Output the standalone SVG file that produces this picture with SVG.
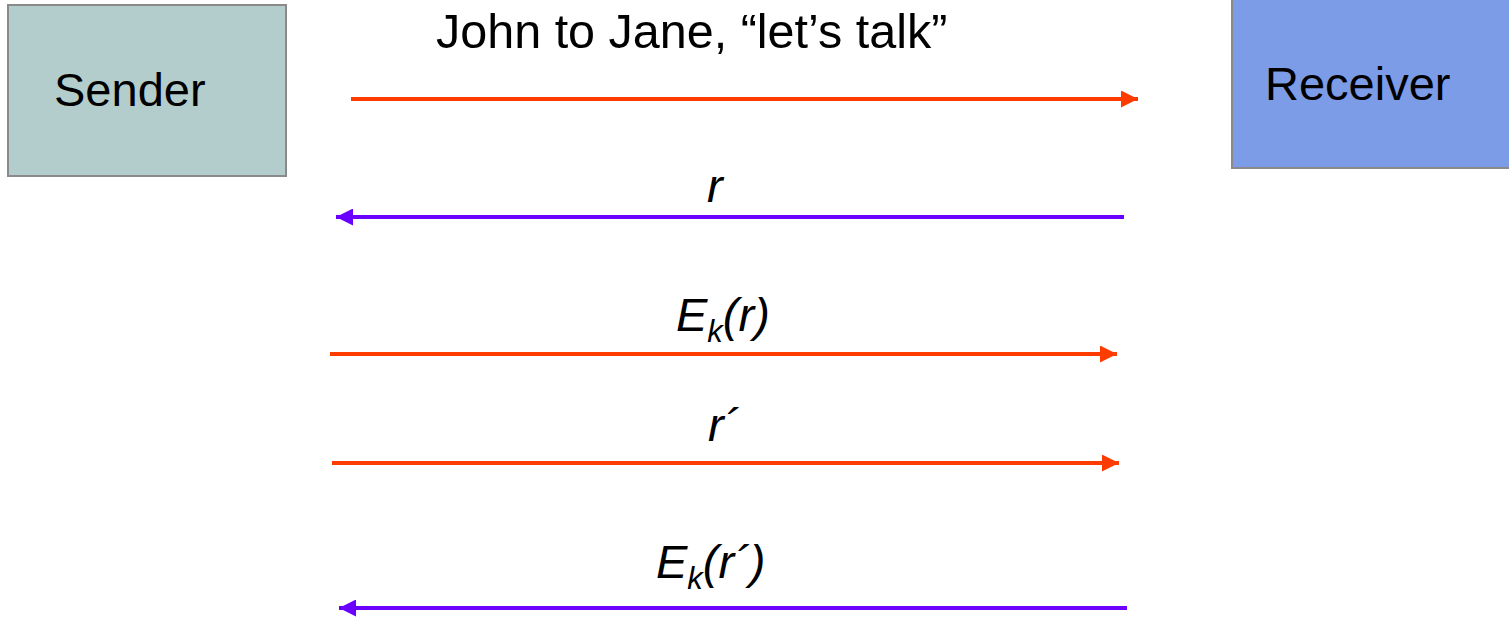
<svg xmlns="http://www.w3.org/2000/svg" width="1509" height="618" viewBox="0 0 1509 618">
<style>
.lbl{font-family:"Liberation Sans",Arial,sans-serif;font-size:47px;fill:#000}
.ttl{font-size:48.5px}
.it{font-style:italic}
.red{stroke:#FF3C00;stroke-width:4;fill:none}
.pur{stroke:#6A00FF;stroke-width:4;fill:none}
</style>
<defs>
<marker id="ar" viewBox="0 0 10 10" refX="10" refY="5" markerWidth="17" markerHeight="17" markerUnits="userSpaceOnUse" orient="auto"><path d="M0,0 L10,5 L0,10 z" fill="#FF3C00"/></marker>
<marker id="ap" viewBox="0 0 10 10" refX="10" refY="5" markerWidth="17" markerHeight="17" markerUnits="userSpaceOnUse" orient="auto"><path d="M0,0 L10,5 L0,10 z" fill="#6A00FF"/></marker>
</defs>
<rect width="1509" height="618" fill="#fff"/>
<g id="sender">
<rect x="8" y="5" width="278" height="171" fill="#B3CDCD" stroke="#8A8A8A" stroke-width="2"/>
<text class="lbl" x="54" y="106">Sender</text>
</g>
<g id="receiver">
<rect x="1232" y="-2" width="280" height="170" fill="#7C9CE8" stroke="#8A8A8A" stroke-width="2"/>
<text class="lbl" x="1265" y="100">Receiver</text>
</g>
<g id="connectors">
<line class="red" x1="351" y1="99" x2="1138" y2="99" marker-end="url(#ar)"/>
<line class="pur" x1="1124" y1="217" x2="336" y2="217" marker-end="url(#ap)"/>
<line class="red" x1="330" y1="354" x2="1117" y2="354" marker-end="url(#ar)"/>
<line class="red" x1="332" y1="463" x2="1119" y2="463" marker-end="url(#ar)"/>
<line class="pur" x1="1127" y1="608" x2="339" y2="608" marker-end="url(#ap)"/>
</g>
<g id="labels">
<text class="lbl ttl" x="436" y="48">John to Jane, “let’s talk”</text>
<text class="lbl it" x="707" y="202">r</text>
<text class="lbl it" x="676" y="331">E<tspan font-size="31" dy="11">k</tspan><tspan dy="-11">(r)</tspan></text>
<text class="lbl it" x="708" y="441">r´</text>
<text class="lbl it" x="656" y="578">E<tspan font-size="31" dy="11">k</tspan><tspan dy="-11">(r´)</tspan></text>
</g>
</svg>
